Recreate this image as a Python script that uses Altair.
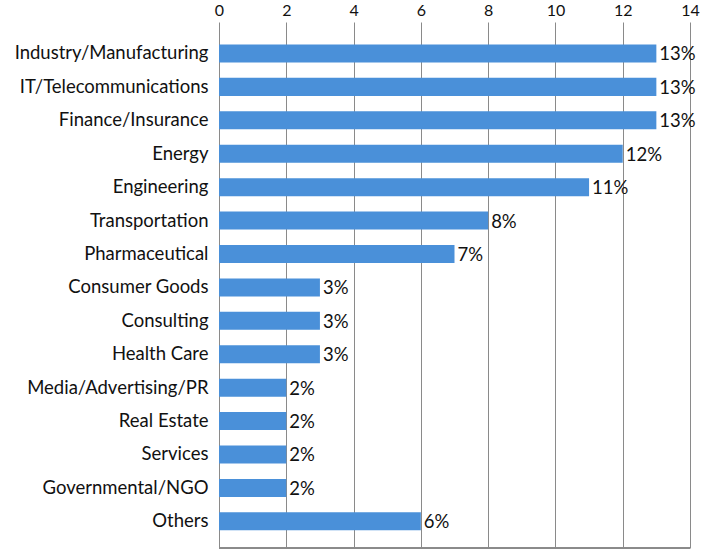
import altair as alt
import pandas as pd

categories = [
    "Industry/Manufacturing", "IT/Telecommunications", "Finance/Insurance",
    "Energy", "Engineering", "Transportation", "Pharmaceutical",
    "Consumer Goods", "Consulting", "Health Care", "Media/Advertising/PR",
    "Real Estate", "Services", "Governmental/NGO", "Others",
]
values = [13, 13, 13, 12, 11, 8, 7, 3, 3, 3, 2, 2, 2, 2, 6]
labels = ["13%", "13%", "13%", "12%", "11%", "8%", "7%", "3%", "3%", "3%",
          "2%", "2%", "2%", "2%", "6%"]

df = pd.DataFrame({"cat": categories, "val": values, "lab": labels})

FONT = "Lato"
W, H = 471, 526

y = alt.Y("cat:N", sort=categories, title=None,
          scale=alt.Scale(paddingInner=0.46, paddingOuter=0.6, align=0.56),
          axis=alt.Axis(labelFont=FONT, labelFontSize=18.5, labelColor="#111",
                        ticks=False, domain=False, labelPadding=11,
                        labelLimit=300))
x = alt.X("val:Q", title=None,
          scale=alt.Scale(domain=[0, 14], nice=False),
          axis=alt.Axis(orient="top", values=[0, 2, 4, 6, 8, 10, 12, 14],
                        labelFont=FONT, labelFontSize=16, labelColor="#111",
                        ticks=False, domain=False, labelPadding=4,
                        grid=True, gridColor="#8a8a8a", gridWidth=1,
                        labelFlush=False))

bars = alt.Chart(df).mark_bar(color="#4A90D9").encode(x=x, y=y)
text = alt.Chart(df).mark_text(align="left", baseline="middle", dx=3, dy=1,
                               font=FONT, fontSize=18.5, color="#111").encode(
    x="val:Q", y=alt.Y("cat:N", sort=categories), text="lab:N")
base_line = alt.Chart(df).mark_rule(color="#8a8a8a", strokeWidth=1).encode(
    x=alt.value(0), x2=alt.value(W), y=alt.value(H))

chart = (bars + text + base_line).properties(
    width=W, height=H,
    autosize=alt.AutoSizeParams(type="none"),
    padding={"left": 219, "top": 22, "right": 38, "bottom": 8},
    background="white",
).configure_view(stroke=None)

chart.save("out.html", embed_options={"renderer": "svg", "actions": False})
